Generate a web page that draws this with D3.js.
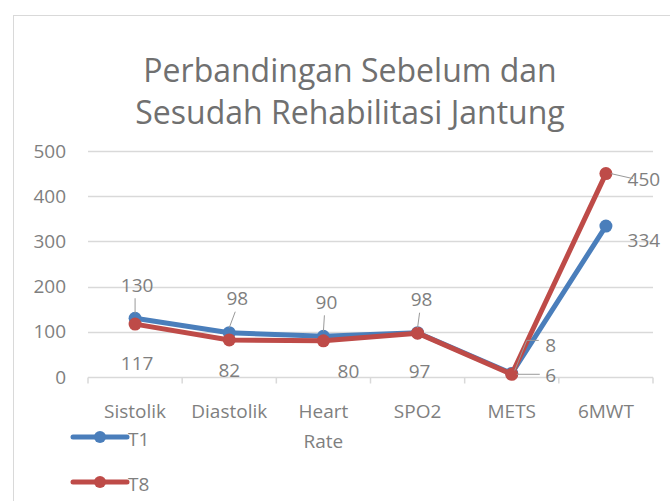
<!DOCTYPE html>
<html>
<head>
<meta charset="UTF-8" />
<title>Perbandingan Sebelum dan Sesudah Rehabilitasi Jantung</title>
<style>
  body { margin: 0; background: #fff; }
  text { font-family: "Open Sans", sans-serif; fill: #7f7f7f; }
</style>
</head>
<body>
<script src="https://d3js.org/d3.v7.min.js"></script>
<script>
var categories = ["Sistolik", "Diastolik", "Heart Rate", "SPO2", "METS", "6MWT"];
var t1 = [130, 98, 90, 98, 8, 334];
var t8 = [117, 82, 80, 97, 6, 450];
var yTicks = [0, 100, 200, 300, 400, 500];
var seriesNames = ["T1", "T8"];
var colors = ["#4a7ebb", "#be4b48"];

// label placement (pixel offsets from the point, as set by hand in the original)
var labelPos = [
    [[2, -33, "v"], [8, -34, "v"], [3, -34, "v"], [4, -33, "v"], [39, -28, "elbow"], [38, 14, null]],
    [[2, 39, null], [0, 30, null], [25, 31, null], [2, 38, null], [39, 1, "h"], [38, 6, "h"]]
];

var W = 670, H = 501;
var svg = d3.select("body").append("svg")
    .attr("width", W)
    .attr("height", H);

// chart frame
svg.append("rect")
    .attr("x", 13.5).attr("y", 15.5)
    .attr("width", 720).attr("height", 600)
    .attr("fill", "#fff")
    .attr("stroke", "#d9d9d9");

// title
var title = svg.append("text")
    .attr("text-anchor", "middle")
    .style("font-size", "32px")
    .style("fill", "#707070");
title.append("tspan").attr("x", 350).attr("y", 82).text("Perbandingan Sebelum dan");
title.append("tspan").attr("x", 350).attr("y", 124).text("Sesudah Rehabilitasi Jantung");

var x = d3.scaleBand().domain(categories).range([88, 653]);
var y = d3.scaleLinear().domain([0, 500]).range([377, 151]);
var cx = function(i) { return x(categories[i]) + x.bandwidth() / 2; };

// grid
svg.append("g")
    .selectAll("line")
    .data(yTicks.slice(1))
    .join("line")
    .attr("x1", 88).attr("x2", 653)
    .attr("y1", function(d) { return Math.round(y(d)) + 0.5; })
    .attr("y2", function(d) { return Math.round(y(d)) + 0.5; })
    .attr("stroke", "#d9d9d9")
    .attr("stroke-width", 1.5);

// y axis labels
svg.append("g")
    .selectAll("text")
    .data(yTicks)
    .join("text")
    .attr("x", 66)
    .attr("y", function(d) { return y(d); })
    .attr("dy", "0.35em")
    .attr("text-anchor", "end")
    .style("font-size", "19px")
    .text(function(d) { return d; });

// x axis
var xAxis = svg.append("g").attr("transform", "translate(0," + (Math.round(y(0)) + 0.5) + ")");
xAxis.append("line")
    .attr("x1", 88).attr("x2", 653)
    .attr("stroke", "#d9d9d9").attr("stroke-width", 1.5);
xAxis.selectAll("line.tick")
    .data(categories.concat([null]))
    .join("line")
    .attr("class", "tick")
    .attr("x1", function(d, i) { return i < categories.length ? x(d) : x.range()[1]; })
    .attr("x2", function(d, i) { return i < categories.length ? x(d) : x.range()[1]; })
    .attr("y1", 0).attr("y2", 6)
    .attr("stroke", "#d9d9d9").attr("stroke-width", 1.5);

var catLabels = svg.append("g")
    .selectAll("text")
    .data(categories)
    .join("text")
    .attr("text-anchor", "middle")
    .style("font-size", "19px");
catLabels.each(function(d, i) {
    var words = d.split(" ");
    var t = d3.select(this);
    words.forEach(function(w, k) {
        t.append("tspan")
            .attr("x", cx(i))
            .attr("y", 418 + k * 30)
            .text(w);
    });
});

// lines and markers
var series = [t1, t8];
var line = d3.line()
    .x(function(d, i) { return cx(i); })
    .y(function(d) { return y(d); });

series.forEach(function(vals, s) {
    var g = svg.append("g");
    g.append("path")
        .attr("d", line(vals))
        .attr("fill", "none")
        .attr("stroke", colors[s])
        .attr("stroke-width", 5)
        .attr("stroke-linejoin", "round")
        .attr("stroke-linecap", "round");
    g.selectAll("circle")
        .data(vals)
        .join("circle")
        .attr("cx", function(d, i) { return cx(i); })
        .attr("cy", function(d) { return y(d); })
        .attr("r", 6.5)
        .attr("fill", colors[s]);
});

// data labels with leader lines
series.forEach(function(vals, s) {
    var g = svg.append("g");
    vals.forEach(function(v, i) {
        var px = cx(i), py = y(v);
        var p = labelPos[s][i];
        var lx = px + p[0], ly = py + p[1];
        g.append("text")
            .attr("x", lx).attr("y", ly)
            .attr("dy", "0.35em")
            .attr("text-anchor", "middle")
            .style("font-size", "19px")
            .text(v);
        var pts = null;
        if (p[2] === "v") pts = [[lx - 2, ly + 13], [px, py - 5]];
        if (p[2] === "h") pts = [[lx - 11, ly - 1], [px + 5, py]];
        if (p[2] === "elbow") pts = [[lx - 12, ly - 5], [px + 15, ly - 5], [px + 3, py - 3]];
        if (pts) {
            g.append("path")
                .attr("d", d3.line()(pts))
                .attr("fill", "none")
                .attr("stroke", "#999")
                .attr("stroke-width", 1);
        }
    });
});

// legend
var legend = svg.append("g");
seriesNames.forEach(function(name, s) {
    var ly = 437 + s * 45;
    legend.append("line")
        .attr("x1", 73).attr("x2", 127)
        .attr("y1", ly).attr("y2", ly)
        .attr("stroke", colors[s])
        .attr("stroke-width", 5)
        .attr("stroke-linecap", "round");
    legend.append("circle")
        .attr("cx", 100).attr("cy", ly).attr("r", 6)
        .attr("fill", colors[s]);
    legend.append("text")
        .attr("x", 128).attr("y", ly + 9)
        .style("font-size", "19px")
        .text(name);
});
</script>
</body>
</html>
